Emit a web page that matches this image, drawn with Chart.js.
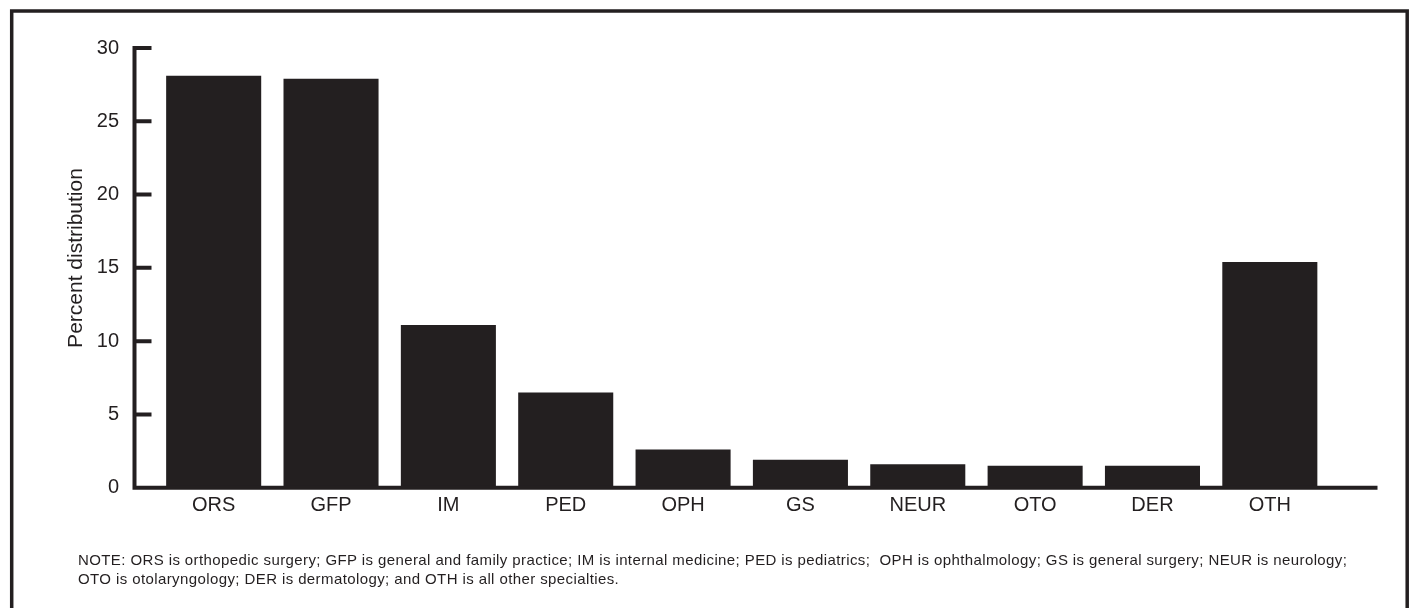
<!DOCTYPE html>
<html>
<head>
<meta charset="utf-8">
<title>Percent distribution by specialty</title>
<script src="https://cdn.jsdelivr.net/npm/chart.js@4/dist/chart.umd.min.js"></script>
<style>
  html, body { margin: 0; padding: 0; background: #fff; }
  #wrap { position: relative; width: 1416px; height: 608px; overflow: hidden; }
  #note {
    position: absolute; left: 78px; top: 550px;
    font-family: "Liberation Sans", Arial, sans-serif;
    font-size: 15px; line-height: 19px; letter-spacing: 0.4px; color: #231f20;
    white-space: pre;
  }
</style>
</head>
<body>
<div id="wrap">
  <canvas id="chart" width="1416" height="608"></canvas>
  <div id="note">NOTE: ORS is orthopedic surgery; GFP is general and family practice; IM is internal medicine; PED is pediatrics;  OPH is ophthalmology; GS is general surgery; NEUR is neurology;
OTO is otolaryngology; DER is dermatology; and OTH is all other specialties.</div>
</div>
<script>
// data
const specialties = ['ORS', 'GFP', 'IM', 'PED', 'OPH', 'GS', 'NEUR', 'OTO', 'DER', 'OTH'];
const percents = [28.1, 27.9, 11.1, 6.5, 2.6, 1.9, 1.6, 1.5, 1.5, 15.4];
const yTicks = [0, 5, 10, 15, 20, 25, 30];
const yTitle = 'Percent distribution';

const INK = '#231f20';
const FONT = '"Liberation Sans", Arial, sans-serif';

// hand drawn axes: y axis sits left of the first bar, ticks point inward,
// base line runs on past the last bar
const axesFrame = {
  id: 'axesFrame',
  afterDraw(chart) {
    const { ctx, chartArea, scales } = chart;
    const y = scales.y;
    const axisX = chartArea.left - 20.5;
    const baseY = y.getPixelForValue(0);
    ctx.save();
    ctx.strokeStyle = INK;
    ctx.lineWidth = 4;
    ctx.lineCap = 'butt';
    ctx.beginPath();
    ctx.moveTo(axisX, y.getPixelForValue(30) - 2);
    ctx.lineTo(axisX, baseY + 2);
    yTicks.forEach(v => {
      const py = y.getPixelForValue(v);
      ctx.moveTo(axisX, py);
      ctx.lineTo(axisX + 17, py);
    });
    ctx.moveTo(axisX - 2, baseY);
    ctx.lineTo(chartArea.right + 49, baseY);
    ctx.stroke();

    // y title, a little above the middle of the axis as in the print
    ctx.fillStyle = INK;
    ctx.font = '21px ' + FONT;
    ctx.textAlign = 'center';
    ctx.textBaseline = 'middle';
    ctx.translate(76, 258);
    ctx.rotate(-Math.PI / 2);
    ctx.fillText(yTitle, 0, 0);
    ctx.setTransform(1, 0, 0, 1, 0, 0);

    // outer frame
    ctx.lineWidth = 3.5;
    ctx.strokeRect(11.7, 11, 1395.5, 640);
    ctx.restore();
  }
};

new Chart(document.getElementById('chart'), {
  type: 'bar',
  data: {
    labels: specialties,
    datasets: [{
      data: percents,
      backgroundColor: INK,
      borderWidth: 0,
      barPercentage: 0.81,
      categoryPercentage: 1.0
    }]
  },
  options: {
    responsive: false,
    animation: false,
    layout: { padding: { top: 41.7, right: 87.5, left: 0, bottom: 0 } },
    plugins: {
      legend: { display: false },
      tooltip: { enabled: false }
    },
    scales: {
      x: {
        type: 'category',
        offset: true,
        grid: { display: false, drawTicks: false },
        border: { display: false },
        ticks: {
          color: INK,
          font: { family: FONT, size: 20 },
          padding: 6,
          maxRotation: 0,
          autoSkip: false
        },
        afterFit: s => { s.height = 608 - 487.7; }
      },
      y: {
        min: 0,
        max: 30,
        grid: { display: false, drawTicks: false },
        border: { display: false },
        ticks: {
          stepSize: 5,
          color: INK,
          font: { family: FONT, size: 20 },
          padding: 36
        },
        afterFit: s => { s.width = 155; }
      }
    }
  },
  plugins: [axesFrame]
});
</script>
</body>
</html>
